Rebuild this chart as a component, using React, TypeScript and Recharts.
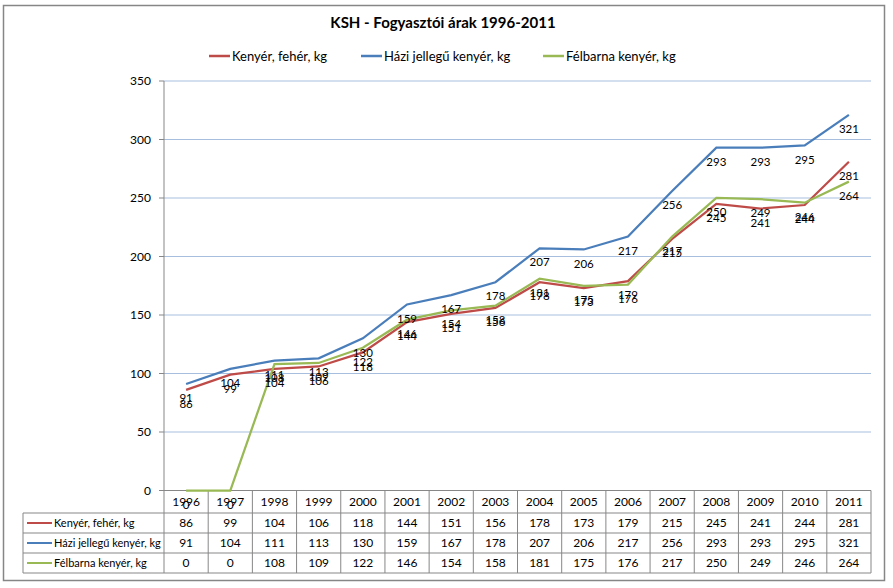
import React from "react";
import { LineChart, Line, XAxis, YAxis, CartesianGrid, LabelList } from "recharts";

// KSH consumer prices, bread, HUF/kg
const years = ["1996", "1997", "1998", "1999", "2000", "2001", "2002", "2003", "2004", "2005", "2006", "2007", "2008", "2009", "2010", "2011"];
const feher = [86, 99, 104, 106, 118, 144, 151, 156, 178, 173, 179, 215, 245, 241, 244, 281];
const hazi = [91, 104, 111, 113, 130, 159, 167, 178, 207, 206, 217, 256, 293, 293, 295, 321];
const felbarna = [0, 0, 108, 109, 122, 146, 154, 158, 181, 175, 176, 217, 250, 249, 246, 264];
const yTicks = [0, 50, 100, 150, 200, 250, 300, 350];

const series = [
  { key: "feher", name: "Kenyér, fehér, kg", color: "#BE4B48", values: feher },
  { key: "hazi", name: "Házi jellegű kenyér, kg", color: "#4A7EBB", values: hazi },
  { key: "felbarna", name: "Félbarna kenyér, kg", color: "#98B954", values: felbarna },
];

const data = years.map((year, i) => {
  const row: Record<string, string | number> = { year };
  series.forEach((s) => (row[s.key] = s.values[i]));
  return row;
});

const FONT = "Lato, 'Open Sans', sans-serif";
const W = 893;
const H = 588;
const PLOT_L = 164;
const PLOT_R = 871;
const PLOT_T = 81;
const PLOT_B = 490.5;
const TABLE_L = 23;
const ROW_H = 20;
const HEAD_B = 513;
const GRID = "#878787";

const colW = (PLOT_R - PLOT_L) / years.length;

const DataTable = () => {
  const rowsBottom = HEAD_B + ROW_H * series.length;
  return (
    <g fontFamily={FONT} fontSize={12} fill="#000">
      {/* horizontal lines */}
      <line x1={PLOT_L} x2={PLOT_R} y1={PLOT_B} y2={PLOT_B} stroke={GRID} />
      {[0, 1, 2, 3].map((r) => (
        <line key={r} x1={TABLE_L} x2={PLOT_R} y1={HEAD_B + r * ROW_H} y2={HEAD_B + r * ROW_H} stroke={GRID} />
      ))}
      {/* vertical lines */}
      <line x1={TABLE_L} x2={TABLE_L} y1={HEAD_B} y2={rowsBottom} stroke={GRID} />
      {years.map((y, i) => (
        <line key={y} x1={PLOT_L + i * colW} x2={PLOT_L + i * colW} y1={PLOT_B} y2={rowsBottom} stroke={GRID} />
      ))}
      <line x1={PLOT_R} x2={PLOT_R} y1={PLOT_B} y2={rowsBottom} stroke={GRID} />
      {years.map((y, i) => (
        <text key={y} x={PLOT_L + (i + 0.5) * colW} y={(PLOT_B + HEAD_B) / 2 + 4} textAnchor="middle">
          {y}
        </text>
      ))}
      {series.map((s, r) => {
        const cy = HEAD_B + r * ROW_H + ROW_H / 2;
        return (
          <g key={s.key}>
            <line x1={27} x2={52} y1={cy} y2={cy} stroke={s.color} strokeWidth={2} />
            <text x={54} y={cy + 4} fontSize={11}>{s.name}</text>
            {s.values.map((v, i) => (
              <text key={i} x={PLOT_L + (i + 0.5) * colW} y={cy + 4} textAnchor="middle">
                {v}
              </text>
            ))}
          </g>
        );
      })}
    </g>
  );
};

const Legend = () => {
  const starts = [209, 361, 543];
  return (
    <g fontFamily={FONT} fontSize={13} fill="#000">
      {series.map((s, i) => (
        <g key={s.key}>
          <line x1={starts[i]} x2={starts[i] + 21} y1={56} y2={56} stroke={s.color} strokeWidth={2.5} />
          <text x={starts[i] + 23} y={60.5}>{s.name}</text>
        </g>
      ))}
    </g>
  );
};

export default function App() {
  return (
    <div style={{ position: "absolute", left: 0, top: 0, width: W, height: H, background: "#fff" }}>
      <svg width={W} height={H} style={{ position: "absolute", left: 0, top: 0 }}>
        <rect x={3.5} y={5.5} width={881} height={575} fill="#fff" stroke="#868686" strokeWidth={1.5} />
        <text x={443} y={28} textAnchor="middle" fontFamily={FONT} fontWeight="bold" fontSize={15} fill="#000">
          KSH - Fogyasztói árak 1996-2011
        </text>
        <Legend />
        <DataTable />
      </svg>
      <div style={{ position: "absolute", left: 0, top: 0 }}>
        <LineChart
          width={W}
          height={H}
          data={data}
          margin={{ top: PLOT_T, right: W - PLOT_R, bottom: H - PLOT_B, left: PLOT_L - 60 }}
        >
          <CartesianGrid vertical={false} horizontalValues={yTicks.slice(1)} stroke="#A7BEDE" strokeWidth={1} />
          <XAxis dataKey="year" hide padding={{ left: colW / 2, right: colW / 2 }} />
          <YAxis
            width={60}
            domain={[0, 350]}
            ticks={yTicks}
            interval={0}
            tickSize={5}
            tickMargin={8}
            stroke={GRID}
            tick={{ fill: "#000", fontSize: 12, fontFamily: FONT }}
          />
          {series.map((s) => (
            <Line
              key={s.key}
              dataKey={s.key}
              name={s.name}
              type="linear"
              stroke={s.color}
              strokeWidth={2.25}
              dot={false}
              isAnimationActive={false}
            >
              <LabelList dataKey={s.key} position="bottom" offset={10} fill="#000" fontSize={11.5} fontFamily={FONT} />
            </Line>
          ))}
        </LineChart>
      </div>
    </div>
  );
}
